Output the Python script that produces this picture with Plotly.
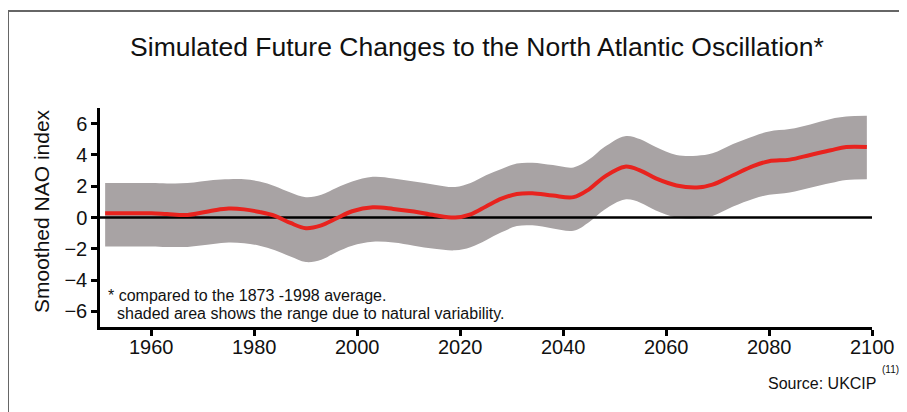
import plotly.graph_objects as go

# ---- data ----
years = [1951, 1955, 1960, 1963, 1967, 1972, 1975, 1978, 1981, 1984, 1987, 1990, 1993,
         1996, 1999, 2003, 2007, 2011, 2015, 2019, 2022, 2025, 2028, 2031, 2034, 2038,
         2042, 2045, 2048, 2052, 2055, 2058, 2062, 2066, 2069, 2073, 2077, 2080, 2084,
         2088, 2092, 2095, 2099]

nao_mean = [0.27, 0.27, 0.27, 0.22, 0.16, 0.45, 0.57, 0.52, 0.35, 0.1, -0.35, -0.68, -0.5,
            -0.05, 0.4, 0.65, 0.55, 0.38, 0.15, 0.0, 0.2, 0.7, 1.2, 1.5, 1.55, 1.4,
            1.3, 1.8, 2.6, 3.25, 3.0, 2.5, 2.05, 1.92, 2.1, 2.7, 3.3, 3.6, 3.7,
            4.0, 4.3, 4.5, 4.5]

nao_upper = [2.2, 2.2, 2.2, 2.18, 2.2, 2.4, 2.45, 2.45, 2.3, 2.0, 1.6, 1.3, 1.45,
             1.9, 2.3, 2.6, 2.5, 2.3, 2.1, 1.95, 2.2, 2.7, 3.1, 3.45, 3.5, 3.35,
             3.2, 3.7, 4.5, 5.2, 5.0, 4.5, 4.0, 3.95, 4.1, 4.7, 5.2, 5.5, 5.65,
             5.95, 6.3, 6.45, 6.5]

nao_lower = [-1.85, -1.85, -1.85, -1.88, -1.88, -1.7, -1.6, -1.65, -1.8, -2.1, -2.5, -2.85, -2.7,
             -2.2, -1.8, -1.55, -1.6, -1.8, -2.0, -2.1, -1.9, -1.45, -0.95, -0.55, -0.5, -0.7,
             -0.85, -0.3, 0.5, 1.15, 0.95, 0.45, 0.0, -0.05, 0.1, 0.7, 1.2, 1.45, 1.6,
             1.9, 2.2, 2.4, 2.45]

x_range = [1950, 2100]
baseline = [0, 0]
x_ticks = [1960, 1980, 2000, 2020, 2040, 2060, 2080, 2100]
x_tick_labels = ["1960", "1980", "2000", "2020", "2040", "2060", "2080", "2100"]
y_ticks = [-6, -4, -2, 0, 2, 4, 6]

FONT = "Liberation Sans, Arial, sans-serif"
BAND = "#a8a3a4"
RED = "#e8231e"
TXT = "#111111"

fig = go.Figure()

# shaded range
fig.add_trace(go.Scatter(x=years, y=nao_lower, mode="lines", line=dict(width=0, shape="spline", smoothing=1.0),
                         hoverinfo="skip", showlegend=False))
fig.add_trace(go.Scatter(x=years, y=nao_upper, mode="lines", line=dict(width=0, shape="spline", smoothing=1.0),
                         fill="tonexty", fillcolor=BAND, hoverinfo="skip", showlegend=False))
# zero line
fig.add_trace(go.Scatter(x=x_range, y=baseline, mode="lines", line=dict(color="black", width=2.5),
                         hoverinfo="skip", showlegend=False))
# smoothed NAO index
fig.add_trace(go.Scatter(x=years, y=nao_mean, mode="lines",
                         line=dict(color=RED, width=4, shape="spline", smoothing=1.0),
                         showlegend=False))

# The page places the figure at an 8px offset; coordinates below are screen pixels.
OFF = 8
W, H = 907, 412
PL, PR, PT, PB = 100, 872, 108, 327          # plot area on screen
L = PL - OFF
T = PT - OFF
R = W - (PR - OFF)
B = H - (PB - OFF)
pw, ph = PR - PL, PB - PT


def px(xs):
    return (xs - PL) / pw


def py(ys):
    return (PB - ys) / ph


annotations = [
    dict(text="Smoothed NAO index", xref="paper", yref="paper", x=px(41), y=py(211),
         textangle=-90, showarrow=False, xanchor="center", yanchor="middle",
         font=dict(size=21, family=FONT, color=TXT)),
    dict(text="* compared to the 1873 -1998 average.", xref="paper", yref="paper",
         x=px(106), y=py(295), xanchor="left", yanchor="middle", showarrow=False,
         font=dict(size=16, family=FONT, color=TXT)),
    dict(text="shaded area shows the range due to natural variability.", xref="paper", yref="paper",
         x=px(115), y=py(313), xanchor="left", yanchor="middle", showarrow=False,
         font=dict(size=16, family=FONT, color=TXT)),
    dict(text="Source: UKCIP", xref="paper", yref="paper",
         x=px(878), y=py(383), xanchor="right", yanchor="middle", showarrow=False,
         font=dict(size=16, family=FONT, color=TXT)),
    dict(text="(11)", xref="paper", yref="paper",
         x=px(880), y=py(369), xanchor="left", yanchor="middle", showarrow=False,
         font=dict(size=10, family=FONT, color=TXT)),
]
# x tick labels placed on the x scale (slightly closer to the axis than plotly's default)
for xv, lab in zip(x_ticks, x_tick_labels):
    annotations.append(dict(text=lab, xref="x", yref="paper", x=xv, y=py(347),
                            xanchor="center", yanchor="middle", showarrow=False,
                            font=dict(size=20, family=FONT, color=TXT)))

fig.update_layout(
    width=W, height=H,
    margin=dict(l=L, r=R, t=T, b=B, pad=0),
    paper_bgcolor="white", plot_bgcolor="white",
    font=dict(family=FONT, color="black"),
    title=dict(text="Simulated Future Changes to the North Atlantic Oscillation*",
               x=(477 - OFF) / W, xanchor="center", xref="container",
               y=1 - (47 - OFF) / H, yanchor="middle", yref="container",
               font=dict(size=26.5, family=FONT, color=TXT)),
    xaxis=dict(range=x_range, tickvals=x_ticks, ticks="outside", ticklen=6, tickwidth=2.5,
               tickcolor="black", showline=True, linecolor="black", linewidth=2.5,
               showgrid=False, zeroline=False, showticklabels=False, fixedrange=True),
    yaxis=dict(range=[-7, 7], tickvals=y_ticks, ticks="outside", ticklen=6, tickwidth=2.5,
               tickcolor="black", showline=True, linecolor="black", linewidth=2.5,
               showgrid=False, zeroline=False, tickfont=dict(size=20, family=FONT, color=TXT),
               fixedrange=True),
    shapes=[dict(type="rect", xref="paper", yref="paper",
                 x0=px(8), x1=px(940), y0=py(450), y1=py(11),
                 line=dict(color="#666666", width=2), fillcolor="rgba(0,0,0,0)", layer="below")],
    annotations=annotations,
)

fig.write_html("out.html")
